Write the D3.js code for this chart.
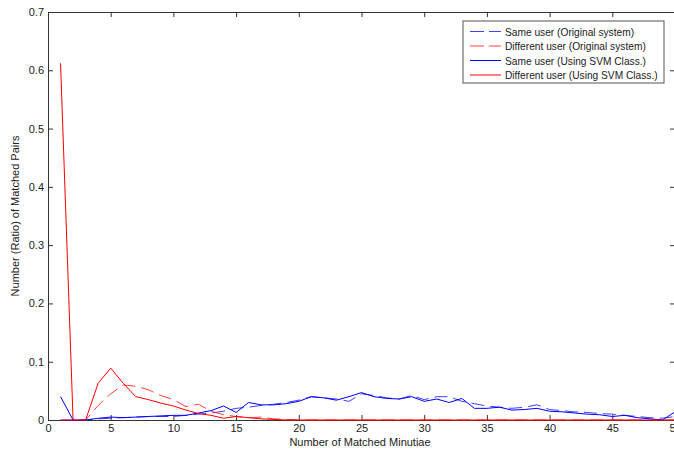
<!DOCTYPE html>
<html>
<head>
<meta charset="utf-8">
<script src="https://cdn.jsdelivr.net/npm/d3@7"></script>
<style>
  body { margin: 0; background: #fff; }
  svg { display: block; font-family: "Liberation Sans", Arial, sans-serif; }
</style>
</head>
<body>
<svg id="chart" width="674" height="451"></svg>
<script>
// x = number of matched minutiae, 1..50
const minutiae = d3.range(1, 51);

// Same user (Original system)
const sameOrig = [0, 0, 0, 0.002, 0.003, 0.004, 0.005, 0.006, 0.006, 0.006,
  0.008, 0.01, 0.012, 0.015, 0.02, 0.022, 0.025, 0.027, 0.03, 0.034,
  0.04, 0.038, 0.036, 0.032, 0.045, 0.042, 0.038, 0.036, 0.042, 0.035,
  0.04, 0.04, 0.032, 0.028, 0.024, 0.022, 0.02, 0.022, 0.026, 0.018,
  0.016, 0.014, 0.013, 0.011, 0.01, 0.008, 0.006, 0.004, 0.003, 0.006];

// Different user (Original system)
const diffOrig = [0, 0, 0, 0.025, 0.045, 0.06, 0.058, 0.052, 0.042, 0.035,
  0.023, 0.027, 0.015, 0.009, 0.006, 0.004, 0.005, 0.002, 0.001, 0,
  0, 0, 0, 0, 0, 0, 0, 0, 0, 0,
  0, 0, 0, 0, 0, 0, 0, 0, 0, 0,
  0, 0, 0, 0, 0, 0, 0, 0, 0, 0];

// Same user (Using SVM Class.)
const sameSvm = [0.04, 0, 0, 0.003, 0.005, 0.004, 0.005, 0.006, 0.007, 0.008,
  0.008, 0.012, 0.016, 0.024, 0.013, 0.03, 0.026, 0.026, 0.028, 0.032,
  0.04, 0.038, 0.034, 0.04, 0.047, 0.04, 0.037, 0.036, 0.04, 0.032,
  0.036, 0.03, 0.037, 0.02, 0.02, 0.022, 0.017, 0.018, 0.02, 0.015,
  0.014, 0.012, 0.01, 0.009, 0.006, 0.008, 0.004, 0.002, 0, 0.014];

// Different user (Using SVM Class.)
const diffSvm = [0.612, 0, 0, 0.063, 0.089, 0.063, 0.04, 0.035, 0.029, 0.024,
  0.017, 0.011, 0.008, 0.003, 0.006, 0.004, 0.002, 0.001, 0, 0,
  0, 0, 0, 0, 0, 0, 0, 0, 0, 0,
  0, 0, 0, 0, 0, 0, 0, 0, 0, 0,
  0, 0, 0, 0, 0, 0, 0, 0, 0, 0];

const xTicks = [0, 5, 10, 15, 20, 25, 30, 35, 40, 45, 50];
const yTicks = [0, 0.1, 0.2, 0.3, 0.4, 0.5, 0.6, 0.7];

const seriesList = [
  { name: "Same user (Original system)", values: sameOrig, color: "#0000ff", dash: "13,6", opacity: 0.75 },
  { name: "Different user (Original system)", values: diffOrig, color: "#ff0000", dash: "13,6", opacity: 0.75 },
  { name: "Same user (Using SVM Class.)", values: sameSvm, color: "#0000ff", dash: null, opacity: 1 },
  { name: "Different user (Using SVM Class.)", values: diffSvm, color: "#ff0000", dash: null, opacity: 1 }
];

const margin = { left: 48, top: 12, right: 675, bottom: 420 };

const svg = d3.select("#chart");

const x = d3.scaleLinear().domain([0, 50]).range([margin.left, margin.right]);
const y = d3.scaleLinear().domain([0, 0.7]).range([margin.bottom, margin.top]);

const axisColor = "#333";

// bottom axis
const gx = svg.append("g")
  .attr("transform", "translate(0," + margin.bottom + ")")
  .call(d3.axisBottom(x).tickValues(xTicks).tickSize(-5).tickPadding(4).tickSizeOuter(0));

// left axis
const gy = svg.append("g")
  .attr("transform", "translate(" + margin.left + ",0)")
  .call(d3.axisLeft(y).tickValues(yTicks).tickSize(-5).tickPadding(4).tickSizeOuter(0)
    .tickFormat(d => d === 0 ? "0" : d3.format(".1f")(d)));

// top and right axes, ticks only
const gt = svg.append("g")
  .attr("transform", "translate(0," + margin.top + ")")
  .call(d3.axisTop(x).tickValues(xTicks).tickSize(-5).tickSizeOuter(0).tickFormat(""));

const gr = svg.append("g")
  .attr("transform", "translate(" + margin.right + ",0)")
  .call(d3.axisRight(y).tickValues(yTicks).tickSize(-5).tickSizeOuter(0).tickFormat(""));

[gx, gy, gt, gr].forEach(g => {
  g.selectAll("path, line").attr("stroke", axisColor);
  g.selectAll("text").attr("fill", "#222").attr("font-size", 11)
    .attr("font-family", "Liberation Sans, Arial, sans-serif");
});

// data lines
const line = d3.line()
  .x((d, i) => x(minutiae[i]))
  .y(d => y(d));

seriesList.forEach(s => {
  svg.append("path")
    .datum(s.values)
    .attr("fill", "none")
    .attr("stroke", s.color)
    .attr("stroke-width", 1)
    .attr("stroke-opacity", s.opacity)
    .attr("stroke-dasharray", s.dash)
    .attr("d", line);
});

// axis titles
svg.append("text")
  .attr("x", 360).attr("y", 446)
  .attr("text-anchor", "middle")
  .attr("font-size", 11).attr("fill", "#222")
  .text("Number of Matched Minutiae");

svg.append("text")
  .attr("transform", "translate(19,216) rotate(-90)")
  .attr("text-anchor", "middle")
  .attr("font-size", 11).attr("fill", "#222")
  .text("Number (Ratio) of Matched Pairs");

// legend
const legend = svg.append("g").attr("transform", "translate(463,21)");
legend.append("rect")
  .attr("width", 201).attr("height", 62)
  .attr("fill", "#fff").attr("stroke", "#555");

seriesList.forEach((s, i) => {
  const ly = 10.5 + i * 14.5;
  legend.append("line")
    .attr("x1", 7).attr("x2", 38)
    .attr("y1", ly).attr("y2", ly)
    .attr("stroke", s.color)
    .attr("stroke-opacity", s.opacity)
    .attr("stroke-dasharray", s.dash ? "14,5" : null);
  legend.append("text")
    .attr("x", 42).attr("y", ly + 4)
    .attr("font-size", 10.2).attr("fill", "#222")
    .text(s.name);
});
</script>
</body>
</html>
